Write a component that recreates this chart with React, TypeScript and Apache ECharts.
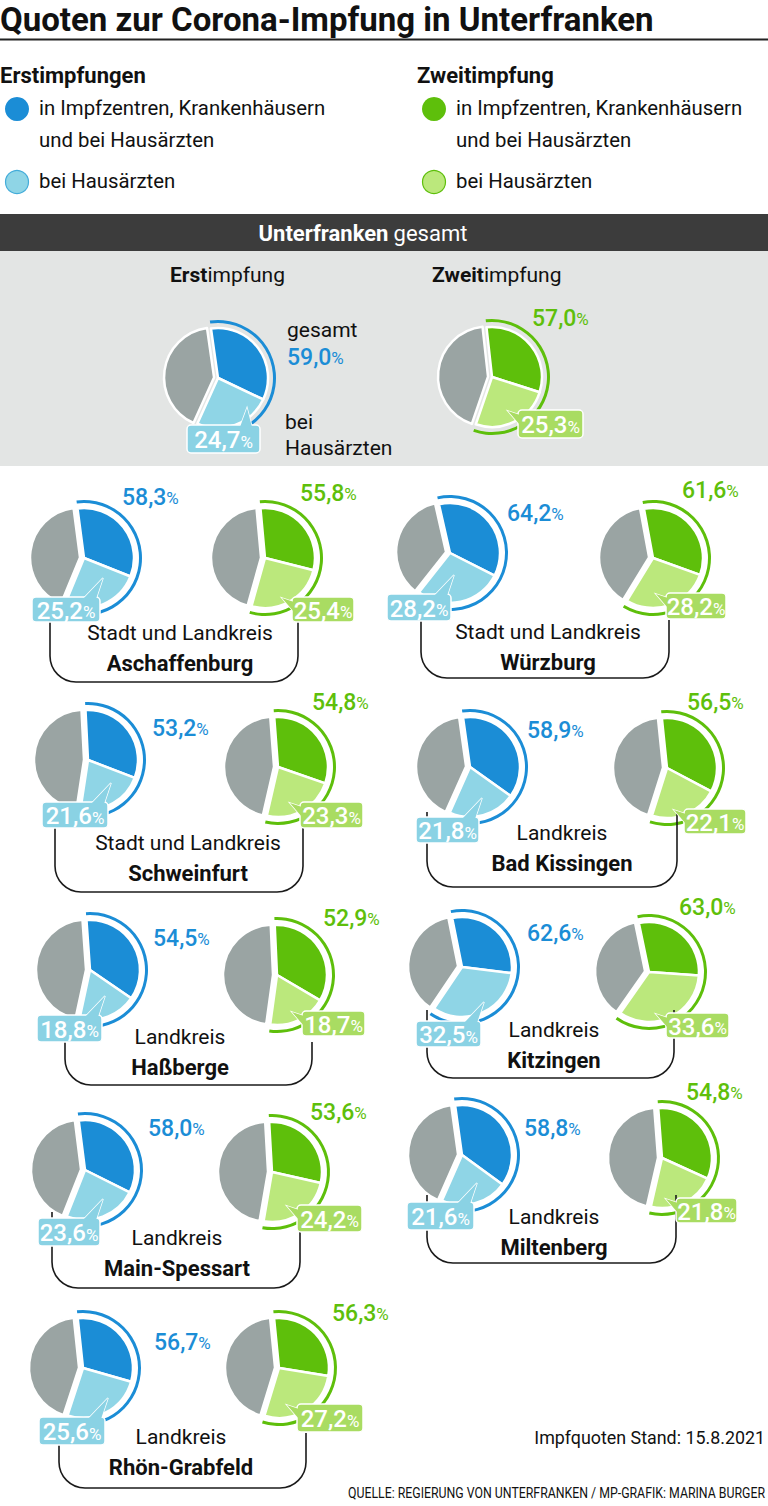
import React, { useEffect, useRef } from "react";
import * as echarts from "echarts";

// ---------- data ----------
const titleText = "Quoten zur Corona-Impfung in Unterfranken";
const legendHeads = ["Erstimpfungen", "Zweitimpfung"];
const legendLines = ["in Impfzentren, Krankenhäusern", "und bei Hausärzten", "bei Hausärzten"];

const regionNames = ["Aschaffenburg", "Würzburg", "Schweinfurt", "Bad Kissingen", "Haßberge", "Kitzingen", "Main-Spessart", "Miltenberg", "Rhön-Grabfeld"];
const regionKinds = ["Stadt und Landkreis", "Stadt und Landkreis", "Stadt und Landkreis", "Landkreis", "Landkreis", "Landkreis", "Landkreis", "Landkreis", "Landkreis"];
const erstGesamt = [58.3, 64.2, 53.2, 58.9, 54.5, 62.6, 58.0, 58.8, 56.7];
const erstHausarzt = [25.2, 28.2, 21.6, 21.8, 18.8, 32.5, 23.6, 21.6, 25.6];
const zweitGesamt = [55.8, 61.6, 54.8, 56.5, 52.9, 63.0, 53.6, 54.8, 56.3];
const zweitHausarzt = [25.4, 28.2, 23.3, 22.1, 18.7, 33.6, 24.2, 21.8, 27.2];

const ufErst = [59.0, 24.7];
const ufZweit = [57.0, 25.3];
const standText = "Impfquoten Stand: 15.8.2021";
const sourceText = "QUELLE: REGIERUNG VON UNTERFRANKEN / MP-GRAFIK: MARINA BURGER";

// ---------- styles ----------
const FONT = 'Roboto, "Liberation Sans", sans-serif';
const BLUE = "#1b8dd6";
const LBLUE = "#8fd5e6";
const LBLUE_BOX = "#8ad2e4";
const GREEN = "#5ebf0b";
const LGREEN = "#bbe87c";
const LGREEN_BOX = "#a9dc62";
const GREY = "#9aa4a3";
const R = 50;

// ---------- layout ----------
type Lay = {
  b: [number, number]; g: [number, number];
  bt: [number, number]; gt: [number, number];
  bb: [number, number, number, number]; gb: [number, number, number, number];
  tx: number; ty: number; br: [number, number, number, number];
};
const LAYOUT: Lay[] = [
  { b: [84, 558], g: [265, 558], bt: [122, 497], gt: [300, 493], bb: [32, 597, 68, 25], gb: [292, 597, 62, 25], tx: 180, ty: 633, br: [50, 298, 622, 682] },
  { b: [450, 553], g: [653, 558], bt: [507, 513], gt: [682, 490], bb: [387, 594, 64, 27], gb: [666, 593, 60, 26], tx: 548, ty: 632, br: [421, 669, 620, 678] },
  { b: [88, 760], g: [278, 767], bt: [152, 728], gt: [312, 702], bb: [42, 802, 66, 26], gb: [300, 802, 63, 26], tx: 188, ty: 843, br: [55, 303, 828, 892] },
  { b: [470, 767], g: [667, 768], bt: [527, 730], gt: [687, 702], bb: [416, 817, 63, 26], gb: [684, 809, 62, 25], tx: 562, ty: 833, br: [427, 677, 812, 887] },
  { b: [90, 970], g: [277, 975], bt: [153, 938], gt: [323, 918], bb: [37, 1015, 65, 27], gb: [302, 1011, 63, 25], tx: 180, ty: 1037, br: [65, 312, 1042, 1085] },
  { b: [462, 967], g: [649, 972], bt: [527, 933], gt: [679, 907], bb: [416, 1021, 65, 26], gb: [666, 1013, 63, 25], tx: 554, ty: 1030, br: [427, 674, 1010, 1078] },
  { b: [85, 1170], g: [272, 1172], bt: [148, 1128], gt: [310, 1112], bb: [38, 1218, 62, 28], gb: [297, 1205, 65, 27], tx: 177, ty: 1238, br: [52, 300, 1212, 1288] },
  { b: [462, 1155], g: [662, 1158], bt: [524, 1128], gt: [686, 1092], bb: [407, 1202, 67, 28], gb: [676, 1198, 61, 25], tx: 554, ty: 1217, br: [427, 676, 1195, 1263] },
  { b: [83, 1368], g: [279, 1368], bt: [154, 1342], gt: [332, 1313], bb: [39, 1417, 66, 28], gb: [297, 1404, 66, 28], tx: 181, ty: 1437, br: [59, 306, 1433, 1488] },
];
const TOP = { b: [218, 378] as [number, number], g: [492, 377] as [number, number], bb: [187, 425, 73, 28] as [number, number, number, number], gb: [518, 410, 65, 28] as [number, number, number, number] };

const fmt = (v: number) => v.toFixed(1).replace(".", ",");

function pieSeries(center: [number, number], gesamt: number, haus: number, dark: string, light: string) {
  // rotate a little so the grey remainder sits on the left, as in the original
  const start = 90 + (gesamt * 3.6 - 180) / 4;
  return [
    {
      type: "pie", center, radius: [0, R], startAngle: start, clockwise: true, silent: true,
      selectedMode: "single", selectedOffset: 4, z: 2,
      label: { show: false }, labelLine: { show: false }, emphasis: { disabled: true },
      itemStyle: { borderColor: "#ffffff", borderWidth: 2.5 },
      data: [
        { value: +(gesamt - haus).toFixed(1), itemStyle: { color: dark } },
        { value: haus, itemStyle: { color: light } },
        { value: +(100 - gesamt).toFixed(1), selected: true, itemStyle: { color: GREY } },
      ],
    },
    {
      type: "pie", center, radius: [R + 5, R + 8], startAngle: start, clockwise: true, silent: true, z: 2,
      label: { show: false }, labelLine: { show: false }, emphasis: { disabled: true },
      data: [
        { value: gesamt, itemStyle: { color: dark } },
        { value: +(100 - gesamt).toFixed(1), itemStyle: { color: "rgba(0,0,0,0)" } },
      ],
    },
  ];
}

function txt(x: number, y: number, text: string, opts: any = {}) {
  const align = opts.align || "left";
  return {
    type: "text", x, y, z: opts.z ?? 6, silent: true,
    scaleX: opts.sx ?? 1,
    style: {
      text, fill: opts.fill || "#111",
      font: opts.font || `21px ${FONT}`,
      rich: opts.rich,
      align, textAlign: align,
      verticalAlign: "middle", textVerticalAlign: "middle",
    },
  };
}

function pctLabel(x: number, y: number, v: number, color: string) {
  return txt(x, y, `{n|${fmt(v)}}{p|%}`, {
    fill: color,
    rich: {
      n: { font: `500 23px ${FONT}`, fill: color, fontSize: 23, fontWeight: 500, fontFamily: FONT },
      p: { font: `17px ${FONT}`, fill: color, fontSize: 17, fontFamily: FONT, padding: [2, 0, 0, 0] },
    },
  });
}

function boxLabel(box: [number, number, number, number], v: number, fill: string, kind: "blue" | "green" | "blueTop") {
  const [bx, by, w, h] = box;
  let pts: number[][];
  if (kind === "blue") pts = [[bx + w - 17, by + 2], [bx + w - 4, by + 2], [bx + w + 3, by - 19]];
  else if (kind === "blueTop") pts = [[bx + w - 20, by + 2], [bx + w - 8, by + 2], [bx + w - 13, by - 17]];
  else pts = [[bx + 2, by + 5], [bx + 2, by + 15], [bx - 10, by + 1]];
  const els: any[] = [
    { type: "polygon", z: 7, silent: true, shape: { points: pts }, style: { fill, stroke: "#fff", lineWidth: 1.5 } },
    { type: "rect", z: 7, silent: true, shape: { x: bx, y: by, width: w, height: h, r: 4 }, style: { fill, stroke: "#fff", lineWidth: 1.5 } },
    { type: "polygon", z: 7, silent: true, shape: { points: pts }, style: { fill } },
    txt(bx + w / 2, by + h / 2 + 1, `{n|${fmt(v)}}{p|%}`, {
      z: 8, align: "center", fill: "#fff",
      rich: {
        n: { font: `500 24px ${FONT}`, fill: "#fff", fontSize: 24, fontWeight: 500, fontFamily: FONT },
        p: { font: `17px ${FONT}`, fill: "#fff", fontSize: 17, fontFamily: FONT, padding: [3, 0, 0, 0] },
      },
    }),
  ];
  return els;
}

function bracket(br: [number, number, number, number]) {
  const [x1, x2, top, bottom] = br;
  const rr = 26;
  const st = { stroke: "#1a1a1a", lineWidth: 1.6, fill: "none" };
  return [
    { type: "line", z: 3, silent: true, shape: { x1, y1: top, x2: x1, y2: bottom - rr }, style: st },
    { type: "arc", z: 3, silent: true, shape: { cx: x1 + rr, cy: bottom - rr, r: rr, startAngle: Math.PI / 2, endAngle: Math.PI, clockwise: true }, style: st },
    { type: "line", z: 3, silent: true, shape: { x1: x1 + rr, y1: bottom, x2: x2 - rr, y2: bottom }, style: st },
    { type: "arc", z: 3, silent: true, shape: { cx: x2 - rr, cy: bottom - rr, r: rr, startAngle: 0, endAngle: Math.PI / 2, clockwise: true }, style: st },
    { type: "line", z: 3, silent: true, shape: { x1: x2, y1: bottom - rr, x2, y2: top }, style: st },
  ];
}

export default function App() {
  const ref = useRef<HTMLDivElement>(null);
  useEffect(() => {
    if (!ref.current) return;
    const chart = echarts.init(ref.current, undefined, { renderer: "svg" });
    const series: any[] = [];
    const graphic: any[] = [];

    // header
    graphic.push(txt(0, 19, titleText, { font: `bold 33px ${FONT}` }));
    graphic.push({ type: "rect", z: 1, silent: true, shape: { x: 0, y: 38.5, width: 768, height: 2 }, style: { fill: "#222" } });

    // legend
    const legX = [0, 417];
    const cols = [[BLUE, LBLUE, "#43acd9"], [GREEN, LGREEN, GREEN]];
    legX.forEach((lx, i) => {
      graphic.push(txt(lx, 75, legendHeads[i], { font: `bold 22px ${FONT}` }));
      graphic.push({ type: "circle", z: 5, silent: true, shape: { cx: lx + 17, cy: 109, r: 12 }, style: { fill: cols[i][0] } });
      graphic.push({ type: "circle", z: 5, silent: true, shape: { cx: lx + 17, cy: 182, r: 11.5 }, style: { fill: cols[i][1], stroke: cols[i][2], lineWidth: 1.2 } });
      graphic.push(txt(lx + 39, 108, legendLines[0], { sx: 0.97 }));
      graphic.push(txt(lx + 39, 140, legendLines[1], { sx: 0.97 }));
      graphic.push(txt(lx + 39, 181, legendLines[2], { sx: 0.97 }));
    });

    // Unterfranken gesamt
    graphic.push({ type: "rect", z: 0, silent: true, shape: { x: 0, y: 214, width: 768, height: 37 }, style: { fill: "#3c3c3c" } });
    graphic.push({ type: "rect", z: 0, silent: true, shape: { x: 0, y: 251, width: 768, height: 215 }, style: { fill: "#e3e5e4" } });
    const headRich = (c: string, s: number) => ({ b: { font: `bold ${s}px ${FONT}`, fill: c, fontWeight: "bold", fontSize: s, fontFamily: FONT }, n: { font: `${s}px ${FONT}`, fill: c, fontSize: s, fontFamily: FONT } });
    graphic.push(txt(363, 233, "{b|Unterfranken} {n|gesamt}", { align: "center", fill: "#fff", rich: headRich("#fff", 22) }));
    graphic.push(txt(170, 275, "{b|Erst}{n|impfung}", { rich: headRich("#111", 21) }));
    graphic.push(txt(432, 275, "{b|Zweit}{n|impfung}", { rich: headRich("#111", 21) }));

    series.push(...pieSeries(TOP.b, ufErst[0], ufErst[1], BLUE, LBLUE));
    series.push(...pieSeries(TOP.g, ufZweit[0], ufZweit[1], GREEN, LGREEN));
    graphic.push(txt(287, 330, "gesamt"));
    graphic.push(pctLabel(287, 357, ufErst[0], BLUE));
    graphic.push(txt(285, 422, "bei"));
    graphic.push(txt(285, 448, "Hausärzten"));
    graphic.push(pctLabel(532, 318, ufZweit[0], GREEN));
    graphic.push(...boxLabel(TOP.bb, ufErst[1], LBLUE_BOX, "blueTop"));
    graphic.push(...boxLabel(TOP.gb, ufZweit[1], LGREEN_BOX, "green"));

    // regions
    regionNames.forEach((name, i) => {
      const L = LAYOUT[i];
      series.push(...pieSeries(L.b, erstGesamt[i], erstHausarzt[i], BLUE, LBLUE));
      series.push(...pieSeries(L.g, zweitGesamt[i], zweitHausarzt[i], GREEN, LGREEN));
      graphic.push(...bracket(L.br));
      graphic.push(pctLabel(L.bt[0], L.bt[1], erstGesamt[i], BLUE));
      graphic.push(pctLabel(L.gt[0], L.gt[1], zweitGesamt[i], GREEN));
      graphic.push(...boxLabel(L.bb, erstHausarzt[i], LBLUE_BOX, "blue"));
      graphic.push(...boxLabel(L.gb, zweitHausarzt[i], LGREEN_BOX, "green"));
      graphic.push(txt(L.tx, L.ty, regionKinds[i], { align: "center" }));
      graphic.push(txt(L.tx, L.ty + 30, name, { align: "center", font: `bold 22px ${FONT}` }));
    });

    graphic.push(txt(765, 1437, standText, { align: "right", font: `19px ${FONT}`, sx: 0.94 }));
    graphic.push(txt(765, 1493, sourceText, { align: "right", font: `14px ${FONT}`, sx: 0.88 }));

    chart.setOption({ animation: false, series, graphic: { elements: graphic } });
    return () => chart.dispose();
  }, []);
  return <div ref={ref} style={{ position: "absolute", left: 0, top: 0, width: 768, height: 1506 }} />;
}
